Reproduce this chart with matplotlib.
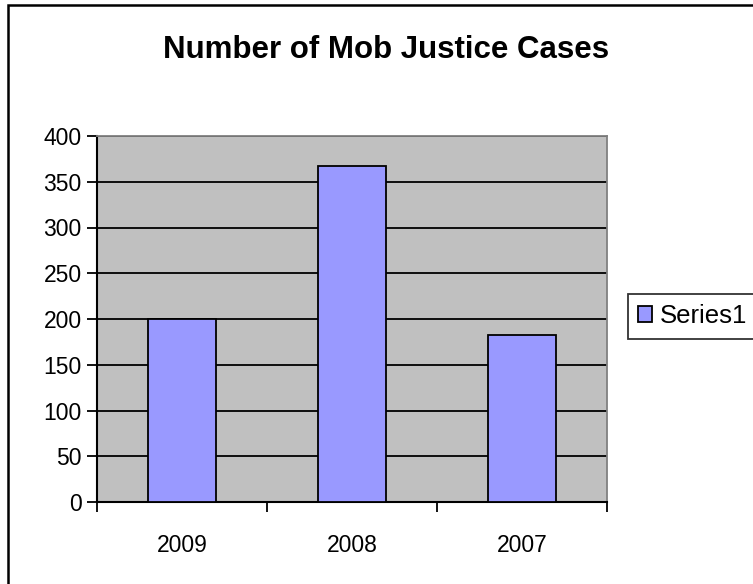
import matplotlib
matplotlib.use("Agg")
import matplotlib.pyplot as plt
from matplotlib.patches import Rectangle
from matplotlib.ticker import FixedLocator, NullFormatter

categories = ["2009", "2008", "2007"]
values = [200, 367, 183]
series_name = "Series1"
title = "Number of Mob Justice Cases"
yticks = [0, 50, 100, 150, 200, 250, 300, 350, 400]

plt.rcParams['font.family'] = ['Liberation Sans', 'DejaVu Sans']

W, H = 753, 584
fig = plt.figure(figsize=(W/100, H/100), dpi=100)

# outer chart border (extends past right/bottom edge)
fig.patches.append(Rectangle((8/W, -0.05), 1.2, (H-5)/H + 0.05, transform=fig.transFigure,
                             fill=False, edgecolor='black', linewidth=1.8, zorder=0))

left, right, top, bottom = 97, 607, 136, 502
ax = fig.add_axes([left/W, 1-bottom/H, (right-left)/W, (bottom-top)/H])
ax.set_facecolor('#C0C0C0')

x = list(range(len(categories)))
bars = ax.bar(x, values, width=0.4, color='#9999FF', edgecolor='black', linewidth=1.3,
              label=series_name, zorder=3)
ax.set_xlim(-0.5, len(categories) - 0.5)
ax.set_ylim(0, 400)
ax.set_yticks(yticks)
ax.yaxis.grid(True, color='black', linewidth=1.3, zorder=1)
ax.set_axisbelow(True)

# x ticks at category boundaries, labels at centers
ax.xaxis.set_major_locator(FixedLocator([-0.5 + i for i in range(len(categories) + 1)]))
ax.xaxis.set_major_formatter(NullFormatter())
ax.xaxis.set_minor_locator(FixedLocator(x))
ax.set_xticklabels(categories, minor=True)
ax.tick_params(axis='x', which='major', length=7, width=1.3, direction='out')
ax.tick_params(axis='x', which='minor', length=0, pad=23, labelsize=16.5)
ax.tick_params(axis='y', length=7, width=1.3, direction='out', labelsize=16.5, pad=4)

for s in ['top', 'right']:
    ax.spines[s].set_color('#808080')
    ax.spines[s].set_linewidth(1.3)
for s in ['left', 'bottom']:
    ax.spines[s].set_color('black')
    ax.spines[s].set_linewidth(1.5)

fig.text(386/W, 1-50/H, title, ha='center', va='center', fontsize=22.5, fontweight='bold')

leg = fig.legend(loc='upper left', bbox_to_anchor=(628/W, 1-294/H), frameon=True,
                 fancybox=False, edgecolor='black', fontsize=18.5, handlelength=0.55,
                 handleheight=0.55, handletextpad=0.3, borderpad=0.4, borderaxespad=0)
leg.get_frame().set_linewidth(1.3)

fig.savefig("out.png", dpi=100)
